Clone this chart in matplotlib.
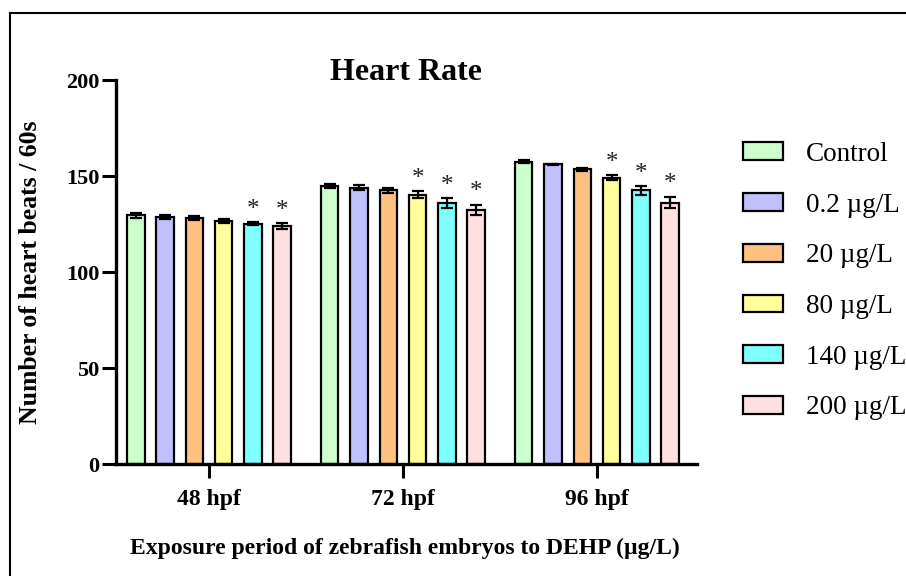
import matplotlib
matplotlib.use("Agg")
import matplotlib.pyplot as plt
from matplotlib.lines import Line2D
import numpy as np

plt.rcParams['font.family'] = ['Liberation Serif', 'DejaVu Serif']

groups = ["48 hpf", "72 hpf", "96 hpf"]
series = ["Control", "0.2 µg/L", "20 µg/L", "80 µg/L", "140 µg/L", "200 µg/L"]
colors = ["#CCFFCC", "#C0C0FF", "#FFC080", "#FFFF99", "#80FFFF", "#FFE0E0"]

means = {
    "Control":  [129.5, 145.0, 157.5],
    "0.2 µg/L": [128.8, 143.9, 156.1],
    "20 µg/L":  [128.0, 142.5, 153.5],
    "80 µg/L":  [126.6, 140.3, 149.1],
    "140 µg/L": [125.2, 135.8, 142.5],
    "200 µg/L": [123.8, 132.5, 136.1],
}
errors = {
    "Control":  [1.2, 1.0, 0.8],
    "0.2 µg/L": [1.0, 1.2, 0.4],
    "20 µg/L":  [1.0, 1.4, 0.8],
    "80 µg/L":  [1.2, 1.7, 1.3],
    "140 µg/L": [0.8, 2.6, 2.2],
    "200 µg/L": [1.5, 2.6, 3.0],
}
significant = {
    "Control":  [False, False, False],
    "0.2 µg/L": [False, False, False],
    "20 µg/L":  [False, False, False],
    "80 µg/L":  [False, True, True],
    "140 µg/L": [True, True, True],
    "200 µg/L": [True, True, True],
}

W, H = 906, 576
fig = plt.figure(figsize=(W / 100, H / 100), dpi=100)
ax = fig.add_axes([116 / W, 1 - 464 / H, (697 - 116) / W, (464 - 80) / H])

x = np.arange(len(groups))
pitch = 29.3 / 194
width = 17.5 / 194
n = len(series)
for i, s in enumerate(series):
    xs = x + (i - (n - 1) / 2) * pitch
    ax.bar(xs, means[s], width, color=colors[i], edgecolor="black", linewidth=1.6,
           label=s, zorder=2)
    ax.errorbar(xs, means[s], yerr=errors[s], fmt="none", ecolor="black",
                elinewidth=1.6, capsize=4, capthick=1.6, zorder=3)
    for xi, m, e, sig in zip(xs, means[s], errors[s], significant[s]):
        if sig:
            ax.text(xi, m + e + 0.8, "*", ha="center", va="bottom", fontsize=18,
                    color="#222222")

ax.set_xlim((116 - 209) / 194, (697 - 209) / 194)
ax.set_ylim(0, 200)
ax.set_yticks([0, 50, 100, 150, 200])
ax.set_xticks(x)
ax.set_xticklabels(groups, fontsize=17, fontweight="bold")
for lab in ax.get_yticklabels():
    lab.set_fontsize(16)
    lab.set_fontweight("bold")
ax.tick_params(axis="both", direction="out", width=2.2, length=10, color="black", pad=2)
ax.tick_params(axis="x", pad=8)
for side in ["top", "right"]:
    ax.spines[side].set_visible(False)
for side in ["left", "bottom"]:
    ax.spines[side].set_linewidth(2.4)

ax.set_ylabel("Number of heart beats / 60s", fontsize=18.5, fontweight="bold")
ax.yaxis.set_label_coords((42 - 116) / 581, 0.5)
fig.text(405 / W, 1 - 548 / H, "Exposure period of zebrafish embryos to DEHP (µg/L)",
         ha="center", va="center", fontsize=17, fontweight="bold")
fig.text(406 / W, 1 - 73 / H, "Heart Rate", ha="center", va="center",
         fontsize=23, fontweight="bold")

fig.legend(loc="upper left", bbox_to_anchor=(732 / W, 1 - 131 / H), frameon=False,
           fontsize=19.5, handlelength=1.48, handleheight=0.63, labelspacing=0.95,
           handletextpad=0.85, borderaxespad=0)

# figure frame (left and top edges)
fig.add_artist(Line2D([10 / W, 10 / W], [0, 1 - 13 / H], transform=fig.transFigure,
                      color="black", linewidth=1.5))
fig.add_artist(Line2D([10 / W, 1], [1 - 13 / H, 1 - 13 / H], transform=fig.transFigure,
                      color="black", linewidth=1.5))

fig.savefig("out.png", dpi=100, facecolor="white")
